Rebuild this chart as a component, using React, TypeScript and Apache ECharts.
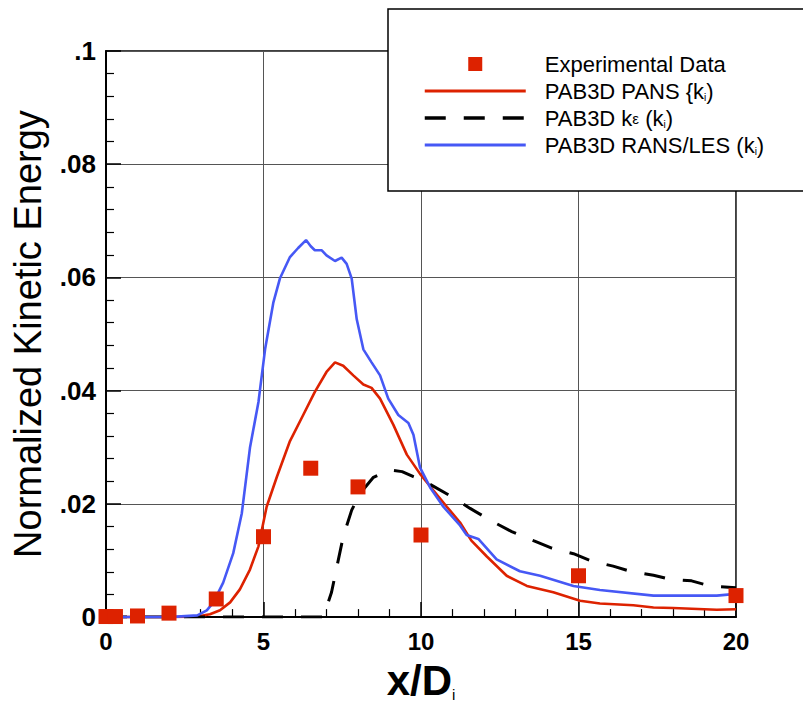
import React, { useEffect, useRef } from "react";
import * as echarts from "echarts";

// Experimental data (squares)
const expX = [0, 0.3, 1, 2, 3.5, 5, 6.5, 8, 10, 15, 20];
const expY = [0.0001, 0.0001, 0.0002, 0.0007, 0.0032, 0.0142, 0.0263, 0.023, 0.0145, 0.0073, 0.0038];

// PAB3D PANS (red solid)
const pansX = [0, 1, 2, 2.9, 3.3, 3.62, 3.94, 4.25, 4.57, 4.84, 5.1, 5.42, 5.84, 6.26, 6.63, 7.0, 7.27, 7.53, 7.85, 8.17, 8.43, 8.7, 9.12, 9.55, 9.97, 10.39, 10.82, 11.24, 11.6, 12.09, 12.72, 13.36, 14.2, 15.05, 15.68, 16.74, 17.38, 18.0, 19.39, 20];
const pansY = [0, 0, 0, 0.0001, 0.0005, 0.0012, 0.0026, 0.0049, 0.0084, 0.0125, 0.0195, 0.0247, 0.0311, 0.0357, 0.0398, 0.0433, 0.045, 0.0444, 0.0427, 0.0411, 0.0405, 0.0386, 0.034, 0.0287, 0.0253, 0.0224, 0.0195, 0.0167, 0.0135, 0.0107, 0.0073, 0.0055, 0.0044, 0.0029, 0.0024, 0.0021, 0.0017, 0.0016, 0.0013, 0.0014];

// PAB3D k-epsilon (black dashed)
const keX = [0, 6.9, 7.16, 7.53, 7.8, 8.06, 8.49, 9.0, 9.4, 9.76, 10.18, 11.03, 11.56, 12.3, 12.88, 13.57, 14.15, 14.84, 15.42, 16.1, 16.63, 17.38, 17.9, 18.59, 19.17, 20];
const keY = [0, 0, 0.0044, 0.0142, 0.0189, 0.0218, 0.0247, 0.026, 0.0257, 0.0248, 0.0238, 0.0211, 0.0192, 0.0168, 0.0151, 0.0135, 0.0122, 0.0112, 0.0099, 0.009, 0.0081, 0.0074, 0.0067, 0.0064, 0.0055, 0.0052];

// PAB3D RANS/LES (blue solid)
const lesX = [0, 1, 2, 2.9, 3.2, 3.41, 3.72, 4.04, 4.31, 4.57, 4.84, 5.05, 5.31, 5.52, 5.84, 6.1, 6.35, 6.5, 6.63, 6.85, 7.0, 7.27, 7.48, 7.64, 7.8, 7.96, 8.17, 8.43, 8.7, 8.96, 9.28, 9.6, 9.76, 9.97, 10.29, 10.71, 11.24, 11.45, 11.82, 12.4, 13.14, 13.78, 14.84, 15.68, 17.38, 19.39, 20];
const lesY = [0, 0, 0, 0.0003, 0.0012, 0.0026, 0.0061, 0.0113, 0.0183, 0.0299, 0.038, 0.0473, 0.0555, 0.0598, 0.0636, 0.0652, 0.0666, 0.0655, 0.0648, 0.0648, 0.0639, 0.0629, 0.0635, 0.0624, 0.0598, 0.0526, 0.0473, 0.045, 0.0427, 0.0386, 0.0357, 0.0343, 0.0322, 0.0264, 0.0229, 0.0195, 0.0162, 0.0145, 0.0138, 0.0102, 0.0081, 0.0073, 0.0055, 0.0048, 0.0038, 0.0038, 0.0041];

const xTicks = { min: 0, max: 20, interval: 5 };
const yTicks = { min: 0, max: 0.1, interval: 0.02 };

const seriesNames = [
  "Experimental Data",
  "PAB3D PANS {ki)",
  "PAB3D kε (ki)",
  "PAB3D RANS/LES (ki)",
];
const legendLabels: Record<string, string> = {
  "Experimental Data": "Experimental Data",
  "PAB3D PANS {ki)": "PAB3D PANS {k{sub|i})",
  "PAB3D kε (ki)": "PAB3D k{eps|ε} (k{sub|i})",
  "PAB3D RANS/LES (ki)": "PAB3D RANS/LES (k{sub|i})",
};

const zip = (xs: number[], ys: number[]) => xs.map((x, i) => [x, ys[i]]);

const RED = "#dd2200";
const BLUE = "#4658f5";
const FONT = "Liberation Sans, Arial, sans-serif";

export default function App() {
  const ref = useRef<HTMLDivElement>(null);
  useEffect(() => {
    document.body.style.margin = "0";
    const chart = echarts.init(ref.current!, null, { renderer: "svg" });
    chart.setOption({
      animation: false,
      backgroundColor: "#fff",
      textStyle: { fontFamily: FONT },
      grid: {
        left: 106,
        right: 67,
        top: 51,
        bottom: 82,
        show: true,
        borderColor: "#000",
        borderWidth: 1.5,
      },
      xAxis: {
        type: "value",
        min: xTicks.min,
        max: xTicks.max,
        interval: xTicks.interval,
        name: "x/D{sub|i}",
        nameLocation: "middle",
        nameGap: 32,
        nameTextStyle: {
          fontFamily: FONT,
          fontSize: 42,
          fontWeight: "bold",
          color: "#000",
          lineHeight: 44,
          rich: {
            sub: { fontFamily: FONT, fontSize: 15, fontWeight: "normal", color: "#000", lineHeight: 9, verticalAlign: "bottom" },
          },
        },
        axisLine: { show: true, lineStyle: { color: "#000", width: 2 } },
        axisTick: { show: true, inside: true, length: 15, lineStyle: { color: "#000", width: 1.5 } },
        minorTick: { show: true, splitNumber: 5, length: 8, lineStyle: { color: "#000", width: 1.2 } },
        splitLine: { show: true, lineStyle: { color: "#555", width: 1 } },
        axisLabel: { fontFamily: FONT, fontSize: 24, fontWeight: "bold", color: "#000", margin: 12 },
      },
      yAxis: {
        type: "value",
        min: yTicks.min,
        max: yTicks.max,
        interval: yTicks.interval,
        name: "Normalized Kinetic Energy",
        nameLocation: "middle",
        nameGap: 59,
        nameTextStyle: { fontFamily: FONT, fontSize: 38, color: "#000", lineHeight: 38 },
        axisLine: { show: true, lineStyle: { color: "#000", width: 2 } },
        axisTick: { show: true, inside: true, length: 15, lineStyle: { color: "#000", width: 1.5 } },
        minorTick: { show: true, splitNumber: 5, length: 8, lineStyle: { color: "#000", width: 1.2 } },
        splitLine: { show: true, lineStyle: { color: "#555", width: 1 } },
        axisLabel: {
          fontFamily: FONT,
          fontSize: 26,
          fontWeight: "bold",
          color: "#000",
          margin: 10,
          formatter: (v: number) => (v === 0 ? "0" : v.toFixed(2).replace(/^0/, "").replace(/0$/, "")),
        },
      },
      legend: {
        orient: "vertical",
        left: 423,
        top: 53,
        padding: 0,
        itemWidth: 101,
        itemHeight: 14,
        itemGap: 5,
        z: 20,
        symbolKeepAspect: true,
        data: [
          { name: seriesNames[0], icon: "path://M0,0H10V10H0Z" },
          { name: seriesNames[1], itemStyle: { opacity: 0 }, lineStyle: { width: 3 } },
          { name: seriesNames[2], itemStyle: { opacity: 0 }, lineStyle: { width: 3.5 } },
          { name: seriesNames[3], itemStyle: { opacity: 0 }, lineStyle: { width: 3 } },
        ],
        formatter: (name: string) => legendLabels[name] ?? name,
        textStyle: {
          fontFamily: FONT,
          fontSize: 22,
          color: "#000",
          lineHeight: 22,
          padding: [0, 0, 0, 14],
          rich: {
            sub: { fontFamily: FONT, fontSize: 10, color: "#000", lineHeight: 2, verticalAlign: "bottom" },
            eps: { fontFamily: FONT, fontSize: 15, color: "#000", lineHeight: 22 },
          },
        },
      },
      graphic: [
        {
          type: "rect",
          z: 10,
          shape: { x: 388, y: 9, width: 440, height: 182 },
          style: { fill: "#fff", stroke: "#000", lineWidth: 1.5 },
        },
      ],
      series: [
        {
          name: seriesNames[0],
          type: "scatter",
          symbol: "rect",
          symbolSize: 15,
          itemStyle: { color: RED, opacity: 1 },
          data: zip(expX, expY),
          z: 3,
        },
        {
          name: seriesNames[1],
          type: "line",
          symbol: "none",
          lineStyle: { color: RED, width: 2.6 },
          itemStyle: { color: RED },
          data: zip(pansX, pansY),
        },
        {
          name: seriesNames[2],
          type: "line",
          symbol: "none",
          lineStyle: { color: "#000", width: 3, type: [21, 18] },
          itemStyle: { color: "#000" },
          data: zip(keX, keY),
        },
        {
          name: seriesNames[3],
          type: "line",
          symbol: "none",
          lineStyle: { color: BLUE, width: 2.6 },
          itemStyle: { color: BLUE },
          data: zip(lesX, lesY),
        },
      ],
    });
    return () => chart.dispose();
  }, []);
  return <div ref={ref} style={{ width: 803, height: 707 }} />;
}
